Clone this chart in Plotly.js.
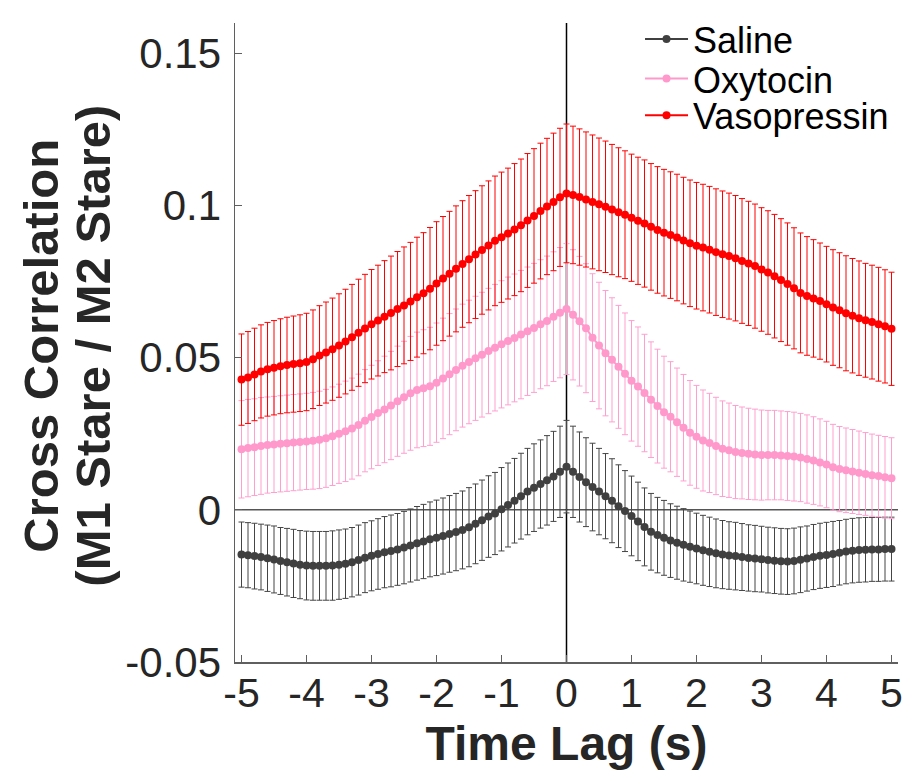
<!DOCTYPE html>
<html>
<head>
<meta charset="utf-8">
<script src="https://cdn.plot.ly/plotly-3.0.1.min.js"></script>
<style>html,body{margin:0;padding:0;background:#fff;}</style>
</head>
<body>
<div id="chart" style="width:907px;height:770px;"></div>
<script>
// Time lag (s)
const lags = [-5,-4.9,-4.8,-4.7,-4.6,-4.5,-4.4,-4.3,-4.2,-4.1,
-4,-3.9,-3.8,-3.7,-3.6,-3.5,-3.4,-3.3,-3.2,-3.1,
-3,-2.9,-2.8,-2.7,-2.6,-2.5,-2.4,-2.3,-2.2,-2.1,
-2,-1.9,-1.8,-1.7,-1.6,-1.5,-1.4,-1.3,-1.2,-1.1,
-1,-0.9,-0.8,-0.7,-0.6,-0.5,-0.4,-0.3,-0.2,-0.1,
0,0.1,0.2,0.3,0.4,0.5,0.6,0.7,0.8,0.9,
1,1.1,1.2,1.3,1.4,1.5,1.6,1.7,1.8,1.9,
2,2.1,2.2,2.3,2.4,2.5,2.6,2.7,2.8,2.9,
3,3.1,3.2,3.3,3.4,3.5,3.6,3.7,3.8,3.9,
4,4.1,4.2,4.3,4.4,4.5,4.6,4.7,4.8,4.9,5];

const saline = [-0.0147,-0.0149,-0.0152,-0.0155,-0.0159,-0.0163,-0.0168,-0.0172,-0.0176,-0.0180,
-0.0183,-0.0184,-0.0184,-0.0184,-0.0183,-0.0180,-0.0177,-0.0172,-0.0165,-0.0157,
-0.0151,-0.0145,-0.0139,-0.0135,-0.0130,-0.0124,-0.0117,-0.0110,-0.0104,-0.0097,
-0.0092,-0.0086,-0.0079,-0.0073,-0.0066,-0.0057,-0.0046,-0.0034,-0.0022,-0.0012,
0.0002,0.0016,0.0030,0.0045,0.0060,0.0073,0.0085,0.0097,0.0110,0.0125,
0.0142,0.0125,0.0108,0.0091,0.0075,0.0060,0.0045,0.0030,0.0012,-0.0004,
-0.0020,-0.0038,-0.0056,-0.0072,-0.0083,-0.0092,-0.0101,-0.0108,-0.0115,-0.0121,
-0.0127,-0.0133,-0.0138,-0.0143,-0.0147,-0.0150,-0.0152,-0.0155,-0.0158,-0.0160,
-0.0162,-0.0165,-0.0167,-0.0169,-0.0170,-0.0168,-0.0164,-0.0160,-0.0155,-0.0151,
-0.0148,-0.0145,-0.0141,-0.0137,-0.0134,-0.0132,-0.0131,-0.0130,-0.0130,-0.0129,-0.0129];

const salineErr = [0.0107,0.0107,0.0108,0.0108,0.0109,0.0110,0.0110,0.0111,0.0112,0.0112,
0.0113,0.0113,0.0113,0.0113,0.0114,0.0114,0.0114,0.0114,0.0115,0.0115,
0.0115,0.0116,0.0117,0.0118,0.0118,0.0119,0.0120,0.0121,0.0122,0.0123,
0.0124,0.0125,0.0126,0.0127,0.0128,0.0130,0.0131,0.0132,0.0134,0.0135,
0.0137,0.0138,0.0139,0.0141,0.0142,0.0144,0.0145,0.0147,0.0148,0.0150,
0.0152,0.0150,0.0148,0.0146,0.0144,0.0142,0.0140,0.0138,0.0136,0.0133,
0.0131,0.0129,0.0128,0.0126,0.0124,0.0123,0.0121,0.0120,0.0119,0.0117,
0.0116,0.0115,0.0114,0.0113,0.0112,0.0111,0.0111,0.0110,0.0109,0.0109,
0.0108,0.0108,0.0108,0.0108,0.0108,0.0108,0.0108,0.0107,0.0107,0.0107,
0.0107,0.0107,0.0106,0.0106,0.0106,0.0106,0.0106,0.0105,0.0105,0.0105,0.0105];

const oxytocin = [0.0199,0.0203,0.0206,0.0210,0.0213,0.0215,0.0217,0.0219,0.0221,0.0223,
0.0225,0.0227,0.0230,0.0235,0.0242,0.0250,0.0258,0.0267,0.0279,0.0293,
0.0305,0.0318,0.0330,0.0343,0.0357,0.0370,0.0383,0.0394,0.0400,0.0406,
0.0418,0.0432,0.0446,0.0460,0.0474,0.0486,0.0498,0.0510,0.0522,0.0533,
0.0544,0.0555,0.0565,0.0576,0.0587,0.0598,0.0610,0.0621,0.0635,0.0648,
0.0660,0.0641,0.0620,0.0597,0.0566,0.0540,0.0515,0.0493,0.0470,0.0447,
0.0424,0.0405,0.0384,0.0362,0.0341,0.0321,0.0306,0.0288,0.0270,0.0253,
0.0240,0.0228,0.0220,0.0210,0.0201,0.0196,0.0190,0.0187,0.0184,0.0182,
0.0180,0.0180,0.0180,0.0179,0.0177,0.0175,0.0172,0.0167,0.0162,0.0156,
0.0149,0.0140,0.0134,0.0130,0.0126,0.0122,0.0118,0.0114,0.0111,0.0107,0.0104];

const oxytocinErr = [0.0160,0.0160,0.0159,0.0159,0.0158,0.0158,0.0158,0.0158,0.0158,0.0158,
0.0158,0.0159,0.0160,0.0161,0.0162,0.0163,0.0165,0.0166,0.0167,0.0168,
0.0170,0.0172,0.0175,0.0178,0.0181,0.0184,0.0187,0.0190,0.0192,0.0194,
0.0196,0.0198,0.0199,0.0200,0.0202,0.0203,0.0204,0.0205,0.0206,0.0208,
0.0209,0.0210,0.0210,0.0211,0.0211,0.0212,0.0212,0.0213,0.0213,0.0214,
0.0215,0.0214,0.0213,0.0212,0.0210,0.0208,0.0206,0.0204,0.0202,0.0200,
0.0198,0.0196,0.0193,0.0190,0.0187,0.0184,0.0181,0.0178,0.0175,0.0172,
0.0169,0.0166,0.0163,0.0160,0.0157,0.0155,0.0153,0.0151,0.0150,0.0149,
0.0148,0.0147,0.0147,0.0146,0.0146,0.0146,0.0145,0.0145,0.0144,0.0143,
0.0142,0.0141,0.0140,0.0139,0.0138,0.0137,0.0136,0.0135,0.0134,0.0134,0.0133];

const vasopressin = [0.0428,0.0435,0.0445,0.0455,0.0462,0.0467,0.0472,0.0476,0.0479,0.0482,
0.0486,0.0495,0.0507,0.0517,0.0528,0.0540,0.0553,0.0567,0.0582,0.0596,
0.0610,0.0622,0.0635,0.0647,0.0660,0.0672,0.0685,0.0699,0.0712,0.0727,
0.0744,0.0760,0.0776,0.0792,0.0808,0.0824,0.0839,0.0854,0.0869,0.0884,
0.0896,0.0908,0.0921,0.0935,0.0951,0.0966,0.0982,0.0997,0.1012,0.1027,
0.1040,0.1035,0.1028,0.1020,0.1012,0.1004,0.0996,0.0987,0.0978,0.0970,
0.0960,0.0950,0.0941,0.0930,0.0920,0.0911,0.0903,0.0895,0.0885,0.0876,
0.0868,0.0862,0.0855,0.0847,0.0840,0.0834,0.0827,0.0818,0.0810,0.0801,
0.0790,0.0780,0.0768,0.0755,0.0742,0.0728,0.0713,0.0703,0.0695,0.0686,
0.0676,0.0665,0.0656,0.0646,0.0638,0.0630,0.0623,0.0617,0.0610,0.0603,0.0595];

const vasopressinErr = [0.0150,0.0151,0.0152,0.0153,0.0154,0.0155,0.0156,0.0157,0.0158,0.0159,
0.0160,0.0162,0.0164,0.0166,0.0168,0.0170,0.0172,0.0174,0.0176,0.0178,
0.0180,0.0182,0.0184,0.0187,0.0189,0.0192,0.0194,0.0197,0.0199,0.0201,
0.0203,0.0204,0.0205,0.0207,0.0208,0.0209,0.0210,0.0211,0.0212,0.0213,
0.0214,0.0215,0.0217,0.0218,0.0220,0.0221,0.0223,0.0224,0.0226,0.0227,
0.0228,0.0226,0.0224,0.0222,0.0220,0.0218,0.0216,0.0214,0.0212,0.0210,
0.0209,0.0209,0.0209,0.0208,0.0208,0.0208,0.0208,0.0208,0.0208,0.0208,
0.0208,0.0208,0.0208,0.0208,0.0208,0.0207,0.0206,0.0205,0.0204,0.0204,
0.0203,0.0203,0.0203,0.0202,0.0201,0.0199,0.0197,0.0195,0.0193,0.0191,
0.0190,0.0190,0.0189,0.0189,0.0188,0.0188,0.0187,0.0187,0.0187,0.0186,0.0186];

const seriesNames = ['Saline', 'Oxytocin', 'Vasopressin'];
const xTickVals = [-5,-4,-3,-2,-1,0,1,2,3,4,5];
const xTickText = ['-5','-4','-3','-2','-1','0','1','2','3','4','5'];
const yTickVals = [-0.05,0,0.05,0.1,0.15];
const yTickText = ['-0.05','0','0.05','0.1','0.15'];
const xTitle = 'Time Lag (s)';
const yTitleLine1 = 'Cross Correlation';
const yTitleLine2 = '(M1 Stare / M2 Stare)';

const FONT = 'Liberation Sans, Arial, Helvetica, sans-serif';
const TXT = '#262626';
const AX = '#5f5f5f';

function mk(name, y, err, color, errColor, legendId) {
  return {
    type: 'scatter', mode: 'lines+markers', name: name, legend: legendId,
    x: lags, y: y,
    line: {color: color, width: 2},
    marker: {color: color, size: 8},
    error_y: {type: 'data', array: err, visible: true, color: errColor, thickness: 1, width: 3}
  };
}

const data = [
  mk(seriesNames[0], saline, salineErr, '#404040', '#454545', 'legend'),
  mk(seriesNames[1], oxytocin, oxytocinErr, '#ff99cc', '#ff9fcf', 'legend2'),
  mk(seriesNames[2], vasopressin, vasopressinErr, '#ff0000', '#ff0000', 'legend3')
];

function leg(yc) {
  return {
    x: 0.6109, y: yc, xanchor: 'left', yanchor: 'middle',
    bgcolor: 'rgba(0,0,0,0)', borderwidth: 0,
    font: {family: FONT, size: 36, color: '#000000'},
    itemwidth: 43
  };
}

const layout = {
  width: 907, height: 770,
  margin: {l: 235, r: 9, t: 12, b: 108, pad: 0},
  paper_bgcolor: '#ffffff', plot_bgcolor: '#ffffff',
  font: {family: FONT, color: TXT},
  showlegend: true,
  legend: leg(0.975),
  legend2: leg(0.913),
  legend3: leg(0.8556),
  xaxis: {
    range: [-5.1, 5.1], tickmode: 'array', tickvals: xTickVals, ticktext: xTickText,
    ticks: 'inside', ticklen: 7, tickwidth: 1.2, tickcolor: AX,
    showline: true, linecolor: AX, linewidth: 1.5,
    showgrid: false, zeroline: false,
    tickfont: {family: FONT, size: 41, color: TXT},
    ticklabelstandoff: -6,
    title: {text: '<b>' + xTitle + '</b>', font: {family: FONT, size: 48, color: TXT}, standoff: 16},
    automargin: false
  },
  yaxis: {
    range: [-0.05, 0.16], tickmode: 'array', tickvals: yTickVals, ticktext: yTickText,
    ticks: 'inside', ticklen: 7, tickwidth: 1.2, tickcolor: AX,
    showline: true, linecolor: AX, linewidth: 1.5,
    showgrid: false, zeroline: false,
    tickfont: {family: FONT, size: 42, color: TXT},
    ticklabelstandoff: 4,
    automargin: false
  },
  shapes: [
    {type: 'line', xref: 'paper', x0: 0, x1: 1, yref: 'y', y0: 0, y1: 0,
     line: {color: '#555555', width: 1.5}, layer: 'below'},
    {type: 'line', xref: 'x', x0: 0, x1: 0, yref: 'paper', y0: 0, y1: 1,
     line: {color: '#000000', width: 1.5}, layer: 'below'}
  ],
  annotations: [
    {text: '<b>' + yTitleLine1 + '</b>', xref: 'paper', yref: 'paper',
     x: -0.2926, y: 0.495, xanchor: 'center', yanchor: 'middle', textangle: -90,
     showarrow: false, font: {family: FONT, size: 49, color: TXT}},
    {text: '<b>' + yTitleLine2 + '</b>', xref: 'paper', yref: 'paper',
     x: -0.2142, y: 0.495, xanchor: 'center', yanchor: 'middle', textangle: -90,
     showarrow: false, font: {family: FONT, size: 49, color: TXT}}
  ]
};

Plotly.newPlot('chart', data, layout, {displayModeBar: false, staticPlot: true});
</script>
</body>
</html>
